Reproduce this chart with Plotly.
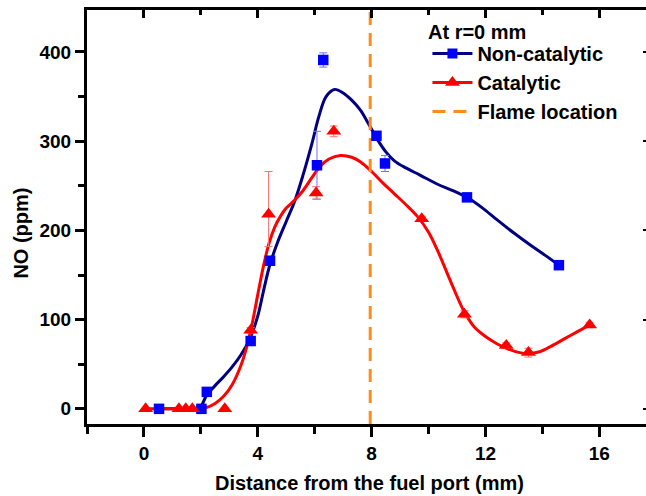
import plotly.graph_objects as go

# ---- data ----
# Non-catalytic measurements (blue squares)
nc_x = [0.53, 2.02, 2.21, 3.75, 4.43, 6.08, 6.30, 8.17, 8.47, 11.35, 14.58]
nc_y = [0, 0, 19, 76, 166, 273, 391, 306, 275, 237, 161]
nc_err = [2, 2, 3, 3, 3, 38, 8, 4, 9, 3, 3]

# Catalytic measurements (red triangles)
c_x = [0.06, 1.23, 1.47, 1.70, 2.84, 3.75, 4.38, 6.05, 6.67, 9.76, 11.26, 12.73, 13.51, 15.66]
c_y = [0, 0, 0, 0, 0, 88, 218, 242, 311, 213, 106, 71, 63, 94]
c_err_plus = [0, 0, 0, 0, 0, 3, 48, 7, 6, 3, 4, 3, 5, 3]
c_err_minus = [0, 0, 0, 0, 0, 3, 36, 7, 6, 3, 4, 3, 5, 3]

# Fitted (smoothed) curves as drawn in the picture
nc_fit_x = [0.53, 1.2, 1.8, 2.0, 2.2, 2.5, 2.8, 3.1, 3.4, 3.7, 4.0, 4.2, 4.43, 4.7, 5.0, 5.3,
            5.6, 5.9, 6.15, 6.4, 6.7, 7.0, 7.3, 7.6, 7.9, 8.2, 8.5, 8.8, 9.2, 9.7, 10.3,
            10.9, 11.4, 11.9, 12.4, 13.0, 13.6, 14.1, 14.58]
nc_fit_y = [0, 0, 0, 3, 15, 26, 36, 47, 60, 77, 104, 132, 162, 187, 210, 233,
            263, 297, 328, 350, 358, 354, 346, 335, 319, 302, 288, 278, 270, 262, 252,
            244, 236, 225, 212, 197, 183, 172, 161]

c_fit_x = [0.06, 1.0, 1.8, 2.2, 2.5, 2.8, 3.1, 3.4, 3.6, 3.8, 4.0, 4.2, 4.4, 4.6, 4.8, 5.0,
           5.3, 5.6, 5.9, 6.2, 6.5, 6.9, 7.3, 7.6, 8.0, 8.4, 8.8, 9.2, 9.6, 10.0, 10.35,
           10.8, 11.25, 11.6, 12.0, 12.4, 12.8, 13.2, 13.5, 13.9, 14.3, 14.8, 15.2, 15.66]
c_fit_y = [0, 0, 0, 1.5, 6, 14, 27, 48, 68, 95, 128, 160, 186, 204, 216, 225,
           234, 245, 259, 272, 280, 284, 282, 277, 266, 253, 241, 229, 216, 198, 175,
           141, 109, 92, 81, 73, 67, 63, 62, 64, 70, 79, 86, 94]

flame_x = 7.95

x_range = [-2, 17.64]
y_range = [-17, 447]

FONT = "Liberation Sans, Arial, sans-serif"
NAVY = "#000080"
BLUE = "#0000FF"
RED = "#FF0000"
ORANGE = "#FF8C1A"

fig = go.Figure()

# fitted curves
fig.add_trace(go.Scatter(x=nc_fit_x, y=nc_fit_y, mode="lines",
                         line=dict(color=NAVY, width=3, shape="spline", smoothing=1.0),
                         showlegend=False, hoverinfo="skip"))
fig.add_trace(go.Scatter(x=c_fit_x, y=c_fit_y, mode="lines",
                         line=dict(color=RED, width=3, shape="spline", smoothing=1.0),
                         showlegend=False, hoverinfo="skip"))

# flame location
fig.add_trace(go.Scatter(x=[flame_x, flame_x], y=y_range, mode="lines",
                         line=dict(color=ORANGE, width=3, dash="13px,8px"),
                         name="Flame location", showlegend=False))

# measurements
fig.add_trace(go.Scatter(x=nc_x, y=nc_y, mode="markers",
                         marker=dict(symbol="square", size=10.5, color=BLUE),
                         error_y=dict(type="data", array=nc_err, color="#7070FF", thickness=1, width=4),
                         showlegend=False))
fig.add_trace(go.Scatter(x=c_x, y=c_y, mode="markers",
                         marker=dict(symbol="triangle-up", size=13, color=RED),
                         error_y=dict(type="data", array=c_err_plus, arrayminus=c_err_minus,
                                      color="#FF7070", thickness=1, width=4),
                         showlegend=False))

# legend entries
fig.add_trace(go.Scatter(x=[None], y=[None], mode="lines+markers", name="Non-catalytic",
                         line=dict(color=NAVY, width=3), marker=dict(symbol="square", size=10, color=BLUE)))
fig.add_trace(go.Scatter(x=[None], y=[None], mode="lines+markers", name="Catalytic",
                         line=dict(color=RED, width=3), marker=dict(symbol="triangle-up", size=13, color=RED)))
fig.add_trace(go.Scatter(x=[None], y=[None], mode="lines", name="Flame location",
                         line=dict(color=ORANGE, width=3, dash="13px,8px")))

# helper trace for mirrored top/right axes
fig.add_trace(go.Scatter(x=[None], y=[None], xaxis="x2", yaxis="y2", showlegend=False, hoverinfo="skip"))

tickfont = dict(family=FONT, size=19, color="black")

fig.update_layout(
    width=646, height=496,
    margin=dict(l=87, r=0, t=10, b=72),
    paper_bgcolor="white", plot_bgcolor="white",
    font=dict(family=FONT, color="black"),
    xaxis=dict(range=x_range, tick0=0, dtick=4, ticks="outside", ticklen=10, tickwidth=3,
               tickcolor="black", showline=True, linewidth=3, linecolor="black",
               showgrid=False, zeroline=False, tickfont=tickfont,
               tickprefix="<b>", ticksuffix="</b>",
               minor=dict(tick0=0, dtick=2, ticks="outside", ticklen=7, tickwidth=3, tickcolor="black", showgrid=False)),
    yaxis=dict(range=y_range, tick0=0, dtick=100, ticks="outside", ticklen=9, tickwidth=3,
               tickcolor="black", showline=True, linewidth=3, linecolor="black",
               showgrid=False, zeroline=False, tickfont=tickfont,
               tickprefix="<b>", ticksuffix="</b>",
               minor=dict(tick0=0, dtick=50, ticks="outside", ticklen=6, tickwidth=3, tickcolor="black", showgrid=False)),
    xaxis2=dict(range=x_range, overlaying="x", side="top", tick0=0, dtick=4, ticks="inside", ticklen=8,
                tickwidth=3, tickcolor="black", showline=True, linewidth=3, linecolor="black",
                showgrid=False, zeroline=False, showticklabels=False,
                minor=dict(tick0=0, dtick=2, ticks="inside", ticklen=5, tickwidth=3, tickcolor="black", showgrid=False)),
    yaxis2=dict(range=y_range, overlaying="y", side="right", anchor="x2", tick0=0, dtick=100, ticks="inside",
                ticklen=3, tickwidth=2, tickcolor="black", showline=False,
                showgrid=False, zeroline=False, showticklabels=False),
    legend=dict(x=0.609, y=0.942, xanchor="left", yanchor="top", bgcolor="rgba(0,0,0,0)",
                font=dict(family=FONT, size=20, color="black", weight="bold"),
                tracegroupgap=0, itemwidth=40),
    showlegend=True,
    annotations=[
        dict(text="<b>At r=0 mm</b>", xref="paper", yref="paper",
             x=0.606, y=(424 - 32) / 414, xanchor="left", yanchor="middle", showarrow=False,
             font=dict(family=FONT, size=20, color="black")),
        dict(text="<b>Distance from the fuel port (mm)</b>", xref="paper", yref="paper",
             x=0.505, y=-0.142, xanchor="center", yanchor="middle", showarrow=False,
             font=dict(family=FONT, size=20, color="black")),
        dict(text="<b>NO (ppm)</b>", xref="paper", yref="paper", textangle=-90,
             x=-0.118, y=0.46, xanchor="center", yanchor="middle", showarrow=False,
             font=dict(family=FONT, size=20, color="black")),
    ],
)

fig.write_html("out.html")
